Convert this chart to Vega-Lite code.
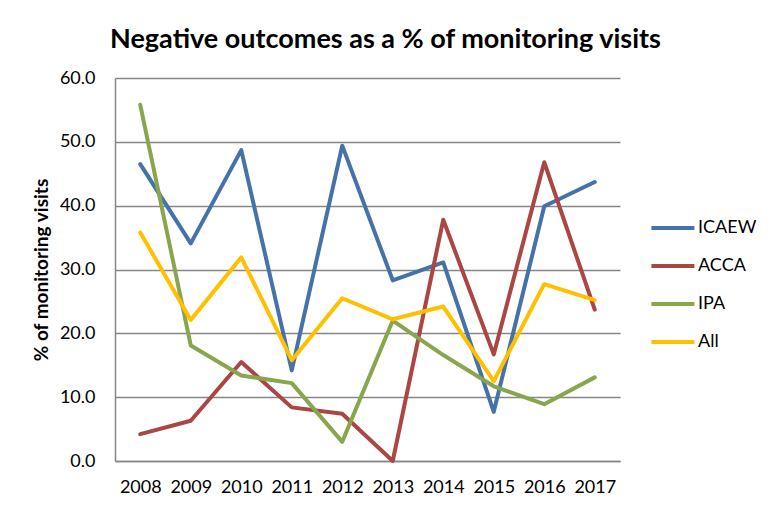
{
  "$schema": "https://vega.github.io/schema/vega-lite/v6.json",
  "width": 505,
  "height": 383,
  "autosize": {"type": "none"},
  "padding": {"left": 115, "top": 78, "right": 157, "bottom": 53},
  "background": "#ffffff",
  "config": {
    "view": {"stroke": null},
    "font": "Lato"
  },
  "title": {
    "text": "Negative outcomes as a % of monitoring visits",
    "font": "Lato",
    "fontSize": 27,
    "fontWeight": "bold",
    "color": "#000000",
    "anchor": "middle",
    "frame": "group",
    "dx": 18,
    "offset": 15
  },
  "data": {
    "values": [
      {"year": "2008", "series": "ICAEW", "value": 46.5},
      {"year": "2009", "series": "ICAEW", "value": 34.1},
      {"year": "2010", "series": "ICAEW", "value": 48.7},
      {"year": "2011", "series": "ICAEW", "value": 14.2},
      {"year": "2012", "series": "ICAEW", "value": 49.4},
      {"year": "2013", "series": "ICAEW", "value": 28.3},
      {"year": "2014", "series": "ICAEW", "value": 31.1},
      {"year": "2015", "series": "ICAEW", "value": 7.7},
      {"year": "2016", "series": "ICAEW", "value": 39.9},
      {"year": "2017", "series": "ICAEW", "value": 43.7},
      {"year": "2008", "series": "ACCA", "value": 4.2},
      {"year": "2009", "series": "ACCA", "value": 6.3},
      {"year": "2010", "series": "ACCA", "value": 15.5},
      {"year": "2011", "series": "ACCA", "value": 8.4},
      {"year": "2012", "series": "ACCA", "value": 7.4},
      {"year": "2013", "series": "ACCA", "value": 0.0},
      {"year": "2014", "series": "ACCA", "value": 37.8},
      {"year": "2015", "series": "ACCA", "value": 16.7},
      {"year": "2016", "series": "ACCA", "value": 46.8},
      {"year": "2017", "series": "ACCA", "value": 23.7},
      {"year": "2008", "series": "IPA", "value": 55.8},
      {"year": "2009", "series": "IPA", "value": 18.1},
      {"year": "2010", "series": "IPA", "value": 13.4},
      {"year": "2011", "series": "IPA", "value": 12.2},
      {"year": "2012", "series": "IPA", "value": 3.0},
      {"year": "2013", "series": "IPA", "value": 22.0},
      {"year": "2014", "series": "IPA", "value": 16.6},
      {"year": "2015", "series": "IPA", "value": 11.7},
      {"year": "2016", "series": "IPA", "value": 8.9},
      {"year": "2017", "series": "IPA", "value": 13.1},
      {"year": "2008", "series": "All", "value": 35.8},
      {"year": "2009", "series": "All", "value": 22.1},
      {"year": "2010", "series": "All", "value": 31.9},
      {"year": "2011", "series": "All", "value": 15.8},
      {"year": "2012", "series": "All", "value": 25.5},
      {"year": "2013", "series": "All", "value": 22.2},
      {"year": "2014", "series": "All", "value": 24.2},
      {"year": "2015", "series": "All", "value": 12.5},
      {"year": "2016", "series": "All", "value": 27.7},
      {"year": "2017", "series": "All", "value": 25.2}
    ]
  },
  "mark": {"type": "line", "strokeWidth": 4, "strokeCap": "round", "strokeJoin": "round"},
  "encoding": {
    "x": {
      "field": "year",
      "type": "ordinal",
      "scale": {"type": "point", "padding": 0.5},
      "axis": {
        "title": null,
        "labelAngle": 0,
        "ticks": false,
        "labelPadding": 17,
        "labelFont": "Lato",
        "labelFontSize": 18,
        "labelColor": "#000000",
        "domainColor": "#868686",
        "domainWidth": 1.5,
        "grid": false
      }
    },
    "y": {
      "field": "value",
      "type": "quantitative",
      "scale": {"domain": [0, 60], "nice": false},
      "axis": {
        "title": "% of monitoring visits",
        "titleFont": "Lato",
        "titleFontSize": 19,
        "titleFontWeight": "bold",
        "titleColor": "#000000",
        "titlePadding": 8,
        "values": [0, 10, 20, 30, 40, 50, 60],
        "format": ".1f",
        "ticks": false,
        "labelPadding": 20,
        "labelFont": "Lato",
        "labelFontSize": 18,
        "labelColor": "#000000",
        "domainColor": "#868686",
        "domainWidth": 1.5,
        "grid": true,
        "gridColor": "#868686",
        "gridWidth": 1.5
      }
    },
    "color": {
      "field": "series",
      "type": "nominal",
      "scale": {
        "domain": ["ICAEW", "ACCA", "IPA", "All"],
        "range": ["#4672AA", "#AA4643", "#89A54E", "#FFC000"]
      },
      "legend": {
        "title": null,
        "orient": "none",
        "legendX": 534,
        "legendY": 139,
        "symbolType": "M-1,0H4",
        "symbolSize": 296,
        "symbolStrokeWidth": 4,
        "labelFont": "Lato",
        "labelFontSize": 18,
        "labelColor": "#000000",
        "labelOffset": 27,
        "rowPadding": 18
      }
    }
  }
}
